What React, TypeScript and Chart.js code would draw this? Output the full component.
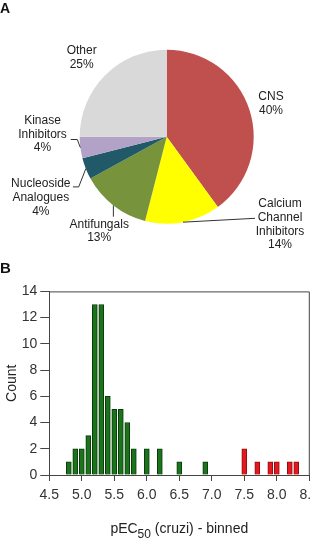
import React, { useEffect, useRef } from 'react';
import { Chart, registerables } from 'chart.js';

Chart.register(...registerables);

const FONT = '"Liberation Sans", Arial, Helvetica, sans-serif';

// ---- Panel A: pie data ----
const pieCategories = ['CNS', 'Calcium Channel Inhibitors', 'Antifungals', 'Nucleoside Analogues', 'Kinase Inhibitors', 'Other'];
const piePercents = [40, 14, 13, 4, 4, 25];
const pieLabelLines = [['CNS'], ['Calcium', 'Channel', 'Inhibitors'], ['Antifungals'], ['Nucleoside', 'Analogues'], ['Kinase', 'Inhibitors'], ['Other']];
const pieColors = ['#c0504d', '#ffff00', '#77933c', '#215968', '#b3a2c7', '#d9d9d9'];

// ---- Panel B: histogram data ----
const activeBins = [4.8, 4.9, 5.0, 5.1, 5.2, 5.3, 5.4, 5.5, 5.6, 5.7, 5.8, 6.0, 6.2, 6.5, 6.9];
const activeCounts = [1, 2, 2, 3, 13, 13, 6, 5, 5, 4, 2, 2, 2, 1, 1];
const potentBins = [7.5, 7.7, 7.9, 8.0, 8.2, 8.3];
const potentCounts = [2, 1, 1, 1, 1, 1];
const xTickValues = [4.5, 5.0, 5.5, 6.0, 6.5, 7.0, 7.5, 8.0, 8.5];
const yTickValues = [0, 2, 4, 6, 8, 10, 12, 14];

// label placement (pixels relative to pie centre, for radius 87)
type Placement = { tx: number; ty: number; path?: number[][]; down?: number; straight?: number[] };
const labelPlacements: Placement[] = [
  { tx: 104.3, ty: -39.7 },
  { tx: 113.3, ty: 67.3, straight: [88.3, 81.6] },
  { tx: -67.5, ty: 87.5, down: 80 },
  { tx: -125.9, ty: 47.3, path: [[-93.8, 50.2], [-88.0, 50.2]] },
  { tx: -124.2, ty: -16, path: [[-96.0, 2.8], [-89.4, 2.8]] },
  { tx: -85, ty: -86 },
];

const pieLabelPlugin = {
  id: 'pieLabels',
  afterDraw(chart: any) {
    const ctx = chart.ctx;
    const meta = chart.getDatasetMeta(0);
    meta.data.forEach((arc: any, i: number) => {
      const { x, y, startAngle, endAngle, outerRadius } = arc.getProps(['x', 'y', 'startAngle', 'endAngle', 'outerRadius'], true);
      const mid = (startAngle + endAngle) / 2;
      const ax = x + Math.cos(mid) * outerRadius;
      const ay = y + Math.sin(mid) * outerRadius;
      const s = outerRadius / 87;
      const p = labelPlacements[i];
      ctx.save();
      ctx.strokeStyle = '#333';
      ctx.lineWidth = 1;
      if (p.path) {
        ctx.beginPath();
        ctx.moveTo(x + p.path[0][0] * s, y + p.path[0][1] * s);
        for (let k = 1; k < p.path.length; k++) ctx.lineTo(x + p.path[k][0] * s, y + p.path[k][1] * s);
        ctx.lineTo(ax, ay);
        ctx.stroke();
      }
      if (p.down !== undefined) {
        ctx.beginPath();
        ctx.moveTo(ax, ay);
        ctx.lineTo(ax, y + p.down * s);
        ctx.stroke();
      }
      if (p.straight) {
        ctx.beginPath();
        ctx.moveTo(ax, ay);
        ctx.lineTo(x + p.straight[0] * s, y + p.straight[1] * s);
        ctx.stroke();
      }
      const lines = [...pieLabelLines[i], `${piePercents[i]}%`];
      ctx.fillStyle = '#222';
      ctx.font = `12px ${FONT}`;
      ctx.textAlign = 'center';
      ctx.textBaseline = 'middle';
      lines.forEach((t, k) => {
        ctx.fillText(t, x + p.tx * s, y + p.ty * s + k * 13.7);
      });
      ctx.restore();
    });
  },
};

const framePlugin = {
  id: 'frame',
  afterDatasetsDraw(chart: any) {
    const { ctx, chartArea } = chart;
    ctx.save();
    ctx.strokeStyle = '#444';
    ctx.lineWidth = 1;
    ctx.beginPath();
    ctx.moveTo(chartArea.left, chartArea.top + 0.5);
    ctx.lineTo(chartArea.right, chartArea.top + 0.5);
    ctx.lineTo(chartArea.right, chartArea.bottom);
    ctx.stroke();
    ctx.restore();
  },
};

const xTitlePlugin = {
  id: 'xTitle',
  afterDraw(chart: any) {
    const { ctx, chartArea } = chart;
    const parts = [
      { t: 'pEC', size: 14, dy: 0 },
      { t: '50', size: 12, dy: 4.5 },
      { t: ' (cruzi) - binned', size: 14, dy: 0 },
    ];
    ctx.save();
    let total = 0;
    parts.forEach((p) => {
      ctx.font = `${p.size}px ${FONT}`;
      total += ctx.measureText(p.t).width;
    });
    let cx = (chartArea.left + chartArea.right) / 2 - total / 2;
    const base = chartArea.bottom + 58;
    ctx.fillStyle = '#222';
    ctx.textAlign = 'left';
    ctx.textBaseline = 'alphabetic';
    parts.forEach((p) => {
      ctx.font = `${p.size}px ${FONT}`;
      ctx.fillText(p.t, cx, base + p.dy);
      cx += ctx.measureText(p.t).width;
    });
    ctx.restore();
  },
};

function PieChart() {
  const ref = useRef<HTMLCanvasElement>(null);
  useEffect(() => {
    const chart = new Chart(ref.current!, {
      type: 'pie',
      data: {
        labels: pieCategories,
        datasets: [{ data: piePercents, backgroundColor: pieColors, borderWidth: 0 }],
      },
      options: {
        animation: false,
        responsive: false,
        maintainAspectRatio: false,
        layout: { padding: { left: 79.7, right: 57.3, top: 49.7, bottom: 46.3 } },
        plugins: { legend: { display: false }, tooltip: { enabled: false } },
      },
      plugins: [pieLabelPlugin],
    } as any);
    return () => chart.destroy();
  }, []);
  return <canvas ref={ref} width={311} height={270} style={{ position: 'absolute', left: 0, top: 0, width: 311, height: 270 }} />;
}

function HistChart() {
  const ref = useRef<HTMLCanvasElement>(null);
  useEffect(() => {
    const tickFont = { size: 14, family: FONT };
    const chart = new Chart(ref.current!, {
      type: 'bar',
      data: {
        datasets: [
          {
            data: activeBins.map((b, i) => ({ x: b, y: activeCounts[i] })),
            backgroundColor: '#1b741b',
            borderColor: '#0c380c',
            borderWidth: 1,
            barThickness: 5,
            grouped: false,
          },
          {
            data: potentBins.map((b, i) => ({ x: b, y: potentCounts[i] })),
            backgroundColor: '#e3191f',
            borderColor: '#8b1010',
            borderWidth: 1,
            barThickness: 5,
            grouped: false,
          },
        ],
      },
      options: {
        animation: false,
        responsive: false,
        maintainAspectRatio: false,
        layout: { padding: { top: 8.3, right: 20.7, left: 0, bottom: 0 } },
        plugins: { legend: { display: false }, tooltip: { enabled: false } },
        scales: {
          x: {
            type: 'linear',
            min: 4.5,
            max: 8.5,
            offset: false,
            afterBuildTicks: (s: any) => {
              s.ticks = xTickValues.map((v) => ({ value: v }));
            },
            ticks: {
              autoSkip: false,
              maxRotation: 0,
              minRotation: 0,
              callback: (v: any) => Number(v).toFixed(1),
              font: tickFont,
              color: '#333',
              padding: 6,
            },
            grid: { display: true, drawOnChartArea: false, drawTicks: true, tickLength: 6, color: '#444', offset: false },
            border: { display: true, color: '#444', width: 1 },
            afterFit: (s: any) => {
              s.height = 66;
            },
          },
          y: {
            min: 0,
            max: 14,
            afterBuildTicks: (s: any) => {
              s.ticks = yTickValues.map((v) => ({ value: v }));
            },
            ticks: { font: tickFont, color: '#333', padding: 3 },
            grid: { display: true, drawOnChartArea: false, drawTicks: true, tickLength: 9, color: '#444' },
            border: { display: true, color: '#444', width: 1 },
            title: { display: true, text: 'Count', font: { size: 14, family: FONT }, color: '#222', padding: { top: 4, bottom: 0 } },
            afterFit: (s: any) => {
              s.width = 49.3;
            },
          },
        },
      },
      plugins: [framePlugin, xTitlePlugin],
    } as any);
    return () => chart.destroy();
  }, []);
  return <canvas ref={ref} width={330} height={261} style={{ position: 'absolute', left: 0, top: 280, width: 330, height: 261 }} />;
}

export default function App() {
  const panelLabel: React.CSSProperties = {
    position: 'absolute',
    left: 0,
    fontFamily: FONT,
    fontWeight: 'bold',
    fontSize: 14,
    color: '#111',
    lineHeight: 'normal',
  };
  return (
    <div style={{ position: 'fixed', left: 0, top: 0, width: 311, height: 541, overflow: 'hidden', background: '#fff' }}>
      <PieChart />
      <HistChart />
      <div style={{ ...panelLabel, top: 0 }}>A</div>
      <div style={{ ...panelLabel, top: 259, fontSize: 15 }}>B</div>
    </div>
  );
}
